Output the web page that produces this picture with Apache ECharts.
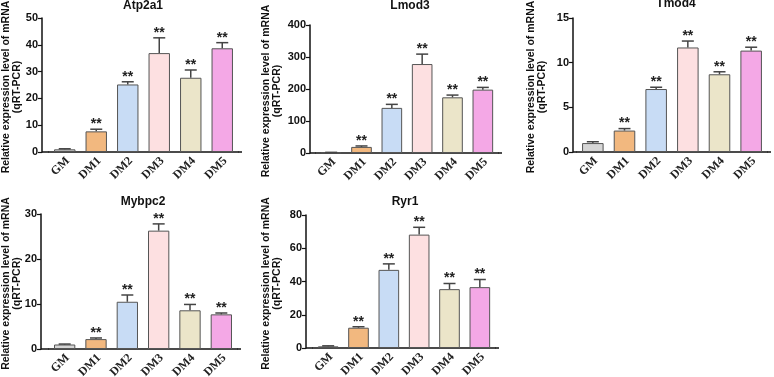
<!DOCTYPE html>
<html>
<head>
<meta charset="utf-8">
<script src="https://cdn.jsdelivr.net/npm/echarts@6/dist/echarts.min.js"></script>
<style>
  html, body { margin: 0; padding: 0; background: #fff; }
  #chart { width: 774px; height: 377px; }
</style>
</head>
<body>
<div id="chart"></div>
<script>
// groups on every x axis
const categories = ['GM', 'DM1', 'DM2', 'DM3', 'DM4', 'DM5'];
const barColors = ['#d6d6d6', '#f2b87f', '#c8dcf5', '#fde0e1', '#ebe5c9', '#f4a8e6'];
const significant = [false, true, true, true, true, true];

// genes (one panel each)
const genes = ['Atp2a1', 'Lmod3', 'Tmod4', 'Mybpc2', 'Ryr1'];

// means and upper error (sd)
const atp2a1Mean = [1.0, 7.7, 25.2, 36.9, 27.7, 38.7];
const atp2a1Sd = [0.2, 0.8, 1.0, 5.7, 2.9, 2.1];
const lmod3Mean = [1.5, 19, 141, 278, 174, 198];
const lmod3Sd = [0.5, 3, 11, 31, 7, 7];
const tmod4Mean = [1.0, 2.4, 7.05, 11.7, 8.7, 11.35];
const tmod4Sd = [0.15, 0.22, 0.2, 0.72, 0.28, 0.38];
const mybpc2Mean = [1.0, 2.2, 10.5, 26.3, 8.6, 7.7];
const mybpc2Sd = [0.1, 0.25, 1.5, 1.5, 1.3, 0.3];
const ryr1Mean = [1.0, 12.2, 47.0, 68.2, 35.4, 36.6];
const ryr1Sd = [0.3, 0.6, 3.6, 4.4, 3.4, 4.6];

// y axis ticks
const yMax = [50, 400, 15, 30, 80];
const yStep = [10, 100, 5, 10, 20];

const means = [atp2a1Mean, lmod3Mean, tmod4Mean, mybpc2Mean, ryr1Mean];
const sds = [atp2a1Sd, lmod3Sd, tmod4Sd, mybpc2Sd, ryr1Sd];

// panel placement: axisX = where the y axis line sits, left/width = category band
const panels = [
  { axisX: 42, left: 49, width: 189, top: 18, height: 134, titleX: 143, titleY: 0, nameX: 12 },
  { axisX: 310, left: 316, width: 182, top: 25, height: 128, titleX: 410, titleY: 0, nameX: 272 },
  { axisX: 573, left: 577, width: 190, top: 18, height: 134, titleX: 676, titleY: -2, nameX: 537 },
  { axisX: 41, left: 49, width: 188, top: 214, height: 135, titleX: 143, titleY: 196, nameX: 12 },
  { axisX: 306, left: 313, width: 182, top: 215, height: 133, titleX: 405, titleY: 196, nameX: 272 }
];

const SANS = 'Liberation Sans, Arial, sans-serif';
const SERIF = 'Liberation Serif, Times New Roman, serif';

const chart = echarts.init(document.getElementById('chart'));

const grid = [], xAxis = [], yAxis = [], series = [], title = [], graphic = [];

panels.forEach(function (p, i) {
  grid.push({ left: p.left, top: p.top, width: p.width, height: p.height, containLabel: false });

  xAxis.push({
    type: 'category', gridIndex: i, data: categories,
    axisLine: { lineStyle: { color: '#111', width: 1.5 } },
    axisTick: { alignWithLabel: true, length: 4, lineStyle: { color: '#111', width: 1.2 } },
    axisLabel: { show: false }
  });

  yAxis.push({
    type: 'value', gridIndex: i, min: 0, max: yMax[i], interval: yStep[i],
    offset: p.left - p.axisX,
    splitLine: { show: false },
    axisLine: { show: true, lineStyle: { color: '#111', width: 1.5 } },
    axisTick: { show: true, length: 4, lineStyle: { color: '#111', width: 1.2 } },
    axisLabel: { margin: 4, color: '#111', fontFamily: SANS, fontWeight: 'bold', fontSize: 11 }
  });

  title.push({
    text: genes[i], left: p.titleX, top: p.titleY, textAlign: 'center', padding: 0,
    textStyle: { fontFamily: SANS, fontWeight: 'bold', fontSize: 12, color: '#111' }
  });

  series.push({
    type: 'bar', xAxisIndex: i, yAxisIndex: i, barWidth: '68%',
    data: means[i].map(function (v, k) {
      return { value: v, itemStyle: { color: barColors[k] } };
    }),
    itemStyle: { borderColor: '#555', borderWidth: 1 },
    z: 2
  });

  // error bars + significance stars
  series.push({
    type: 'custom', xAxisIndex: i, yAxisIndex: i, z: 3,
    encode: { x: 0, y: [1, 2] },
    data: means[i].map(function (v, k) {
      return [k, v, v + sds[i][k], significant[k] ? 1 : 0];
    }),
    renderItem: function (params, api) {
      const base = api.coord([api.value(0), api.value(1)]);
      const top = api.coord([api.value(0), api.value(2)]);
      const children = [
        { type: 'line', shape: { x1: base[0], y1: base[1], x2: top[0], y2: top[1] },
          style: { stroke: '#444', lineWidth: 1.5 } },
        { type: 'line', shape: { x1: top[0] - 6, y1: top[1], x2: top[0] + 6, y2: top[1] },
          style: { stroke: '#444', lineWidth: 1.5 } }
      ];
      if (api.value(3)) {
        children.push({
          type: 'text', x: top[0], y: top[1] + 2,
          style: { text: '**', fill: '#222', font: 'bold 14px ' + SANS, align: 'center', verticalAlign: 'bottom' }
        });
      }
      return { type: 'group', children: children };
    }
  });

  // x axis line continues to the y axis, as in the original
  const bottom = p.top + p.height;
  graphic.push({
    type: 'line', shape: { x1: p.axisX, y1: bottom, x2: p.left, y2: bottom },
    style: { stroke: '#111', lineWidth: 1.5 }
  });
  graphic.push({
    type: 'line', shape: { x1: p.left + p.width, y1: bottom, x2: p.left + p.width + 4, y2: bottom },
    style: { stroke: '#111', lineWidth: 1.5 }
  });

  graphic.push({
    type: 'text', x: p.nameX, y: p.top + p.height / 2 + 2, rotation: Math.PI / 2,
    style: {
      text: 'Relative expression level of mRNA\n(qRT-PCR)',
      font: 'bold 10.5px ' + SANS, fill: '#111', align: 'center', verticalAlign: 'middle', lineHeight: 11
    }
  });
});

chart.setOption({
  animation: false,
  backgroundColor: '#fff',
  title: title,
  grid: grid,
  xAxis: xAxis,
  yAxis: yAxis,
  series: series,
  graphic: graphic
});

// slanted category labels, placed through each panel's axes
panels.forEach(function (p, i) {
  categories.forEach(function (c, k) {
    const pt = chart.convertToPixel({ gridIndex: i }, [k, 0]);
    graphic.push({
      type: 'text', x: pt[0] + 3, y: pt[1] + 7, rotation: Math.PI / 4,
      style: { text: c, fill: '#222', font: 'bold 12px ' + SERIF, align: 'right', verticalAlign: 'middle' }
    });
  });
});
chart.setOption({ graphic: graphic });
</script>
</body>
</html>
